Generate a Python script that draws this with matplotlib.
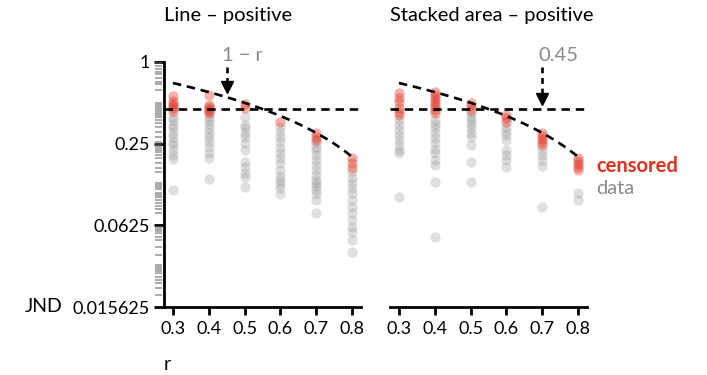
#! /usr/bin/env python3
#
# JND estimates against correlation r for two chart types, log2 scale,
# with censored estimates highlighted and the 1 - r / 0.45 bounds.

import matplotlib

matplotlib.use("Agg")

import matplotlib.pyplot as plt
import numpy as np

plt.rcParams["font.family"] = ["Lato", "DejaVu Sans"]
plt.rcParams["font.size"] = 13

# Correlation levels shared by both panels
R_LEVELS = [0.3, 0.4, 0.5, 0.6, 0.7, 0.8]

# Line chart, positive correlation: JND per r level
line_censored = [
    [0.561, 0.515, 0.490, 0.474, 0.458, 0.435],
    [0.571, 0.482, 0.466, 0.450, 0.435, 0.420],
    [0.490, 0.458],
    [0.361],
    [0.299, 0.280, 0.266],
    [0.196, 0.180, 0.165],
]
line_data = [
    [0.393, 0.373, 0.343, 0.326, 0.299, 0.280, 0.257, 0.244, 0.224, 0.206, 0.193, 0.114],
    [0.393, 0.373, 0.349, 0.326, 0.299, 0.280, 0.257, 0.236, 0.213, 0.196, 0.137],
    [0.393, 0.343, 0.326, 0.299, 0.280, 0.253, 0.224, 0.183, 0.168, 0.152, 0.142, 0.120],
    [0.331, 0.305, 0.280, 0.257, 0.232, 0.213, 0.196, 0.180, 0.160, 0.144, 0.135, 0.126,
     0.118, 0.106],
    [0.257, 0.236, 0.224, 0.206, 0.189, 0.174, 0.160, 0.147, 0.135, 0.128, 0.122, 0.114,
     0.106, 0.096, 0.077],
    [0.154, 0.139, 0.128, 0.118, 0.108, 0.096, 0.085, 0.077, 0.068, 0.061, 0.056, 0.049,
     0.040],
]

# Stacked area chart, positive correlation
area_censored = [
    [0.590, 0.543, 0.507, 0.458, 0.428, 0.406],
    [0.600, 0.571, 0.543, 0.515, 0.490, 0.466, 0.443, 0.420],
    [0.498, 0.474, 0.443],
    [0.406, 0.386, 0.361],
    [0.299, 0.284, 0.270, 0.257, 0.244],
    [0.196, 0.186, 0.177, 0.168, 0.160],
]
area_data = [
    [0.373, 0.343, 0.315, 0.289, 0.266, 0.244, 0.224, 0.213, 0.101],
    [0.373, 0.349, 0.326, 0.299, 0.275, 0.253, 0.228, 0.213, 0.189, 0.174, 0.130, 0.051],
    [0.420, 0.393, 0.373, 0.349, 0.326, 0.299, 0.280, 0.244, 0.183, 0.130],
    [0.331, 0.310, 0.289, 0.266, 0.224, 0.206, 0.189, 0.168],
    [0.224, 0.206, 0.189, 0.171, 0.085],
    [0.108, 0.096],
]

# Rug of JND levels along the y axis
rug_levels = [
    0.983, 0.934, 0.888, 0.844, 0.816, 0.762, 0.712, 0.688, 0.622,
    0.498, 0.482, 0.466, 0.450, 0.435, 0.420, 0.406, 0.393,
    0.373, 0.355, 0.331, 0.305, 0.280,
    0.257, 0.248, 0.240, 0.232, 0.224, 0.217, 0.206,
    0.196, 0.180, 0.165, 0.154,
    0.128, 0.124, 0.120, 0.116, 0.108, 0.104, 0.101, 0.096,
    0.091, 0.087, 0.082, 0.077,
    0.061, 0.0586, 0.0567, 0.0548, 0.051, 0.049, 0.043, 0.038,
    0.0318, 0.0307, 0.0297, 0.0287, 0.0277,
    0.0259, 0.0246, 0.0234, 0.0215, 0.0191,
]

Y_TICKS = [1, 0.25, 0.0625, 0.015625]
Y_TICK_LABELS = ["1", "0.25", "0.0625", "0.015625"]
FLAT_BOUND = 0.45

RED = "#e0301e"
GREY = "#8c8c8c"
TEXT_GREY = "#8a8a8a"
DASH = (0, (3.2, 2.2))


def draw_panel(ax, censored, data):
    """Scatter one chart type's JND estimates with the bounds."""
    for r, vals in zip(R_LEVELS, data):
        ax.scatter([r] * len(vals), vals, s=55, color=GREY, alpha=0.27,
                   linewidths=0, zorder=2)
    for r, vals in zip(R_LEVELS, censored):
        ax.scatter([r] * len(vals), vals, s=55, color=RED, alpha=0.38,
                   linewidths=0, zorder=3)

    r = np.linspace(R_LEVELS[0], R_LEVELS[-1], 50)
    ax.plot(r, 1 - r, color="black", lw=1.9, ls=DASH, zorder=4)
    ax.axhline(FLAT_BOUND, color="black", lw=1.9, ls=DASH, zorder=4)

    ax.set_yscale("log", base=2)
    ax.set_ylim(1 / 64, 1)
    ax.set_xlim(0.275, 0.825)
    ax.set_xticks(R_LEVELS)
    ax.set_xticklabels([f"{v:.1f}" for v in R_LEVELS])
    ax.minorticks_off()
    ax.tick_params(axis="x", length=6, width=2, pad=4, labelsize=13)
    ax.tick_params(axis="y", length=7, width=2, pad=3, labelsize=13)
    for side in ("top", "right"):
        ax.spines[side].set_visible(False)
    for side in ("left", "bottom"):
        ax.spines[side].set_linewidth(2)


def pointer(ax, x, y_top, y_head, label):
    """Dashed pointer with a filled head and a grey label above it."""
    ax.plot([x, x], [y_top, y_head], color="black", lw=1.9,
            ls=(0, (2.2, 1.8)), clip_on=False, zorder=5)
    ax.plot([x], [y_head], marker="v", ms=9, color="black", clip_on=False,
            zorder=5)
    ax.text(x - 0.012, y_top * 1.05, label, ha="left", va="bottom",
            color=TEXT_GREY, fontsize=14.5)


fig = plt.figure(figsize=(7.07, 3.75), dpi=100)
ax_l = fig.add_axes([164 / 707, 68 / 375, 197 / 707, 245 / 375])
ax_r = fig.add_axes([390 / 707, 68 / 375, 197 / 707, 245 / 375])

draw_panel(ax_l, line_censored, line_data)
draw_panel(ax_r, area_censored, area_data)

ax_l.set_yticks(Y_TICKS)
ax_l.set_yticklabels(Y_TICK_LABELS)

ax_r.spines["left"].set_visible(False)
ax_r.set_yticks([])

# Panel titles
fig.text(164 / 707, 1 - 16 / 375, "Line \u2013 positive", ha="left",
         va="center", fontsize=14.5)
fig.text(390 / 707, 1 - 16 / 375, "Stacked area \u2013 positive", ha="left",
         va="center", fontsize=14.5)

# Rug of levels just left of the y spine
trans = ax_l.get_yaxis_transform()
for v in rug_levels:
    ax_l.plot([-0.046, -0.012], [v, v], transform=trans, color="#666666",
              lw=1.1, alpha=0.7, clip_on=False, solid_capstyle="butt")

pointer(ax_l, 0.45, 0.918, 0.654, "1 \u2212 r")
pointer(ax_r, 0.70, 0.918, 0.533, "0.45")

# Axis titles sit at the bottom-left corner
fig.text(62 / 707, 1 - 307 / 375, "JND", ha="right", va="center", fontsize=14)
fig.text(167 / 707, 1 - 365 / 375, "r", ha="center", va="center", fontsize=14)

# Legend as coloured labels
fig.text(596 / 707, 1 - 166 / 375, "censored", color=RED, fontsize=14.5,
         fontweight="bold", va="center")
fig.text(596 / 707, 1 - 188 / 375, "data", color=TEXT_GREY, fontsize=14.5,
         va="center")

fig.savefig("out.png", dpi=100)
